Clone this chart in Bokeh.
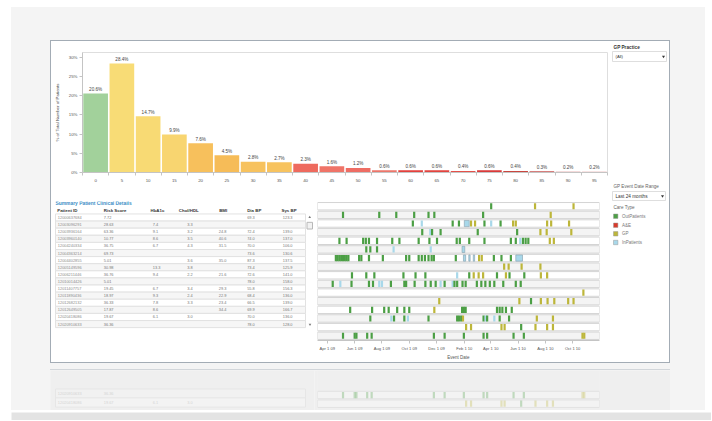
from datetime import datetime
from bokeh.plotting import figure
from bokeh.layouts import row, column
from bokeh.models import (Range1d, FixedTicker, PrintfTickFormatter, Label,
                          DatetimeTickFormatter, BoxAnnotation)
from bokeh.core.properties import value
from bokeh.embed import file_html
from bokeh.resources import INLINE

FONT = "Liberation Sans"
BLUE = "#3c8dc5"

# ---------------- data: risk score distribution ----------------
risk_scores = list(range(0, 100, 5))
pct_patients = [20.6, 28.4, 14.7, 9.9, 7.6, 4.5, 2.8, 2.7, 2.3, 1.6,
                1.2, 0.6, 0.6, 0.6, 0.4, 0.6, 0.4, 0.3, 0.2, 0.2]
bar_colors = ["#a2d19b", "#f8dc76", "#f8da74", "#f8d570", "#f7c05c",
              "#f6bc58", "#f7c25e", "#f7c35f", "#ee6a5e", "#ef7468",
              "#ee6d64", "#ec766b", "#e3413d", "#e2443f", "#e4514a",
              "#d93a3a", "#c9463f", "#c95350", "#d46c6d", "#e08e8e"]
y_ticks = [0, 5, 10, 15, 20, 25, 30]

# ---------------- data: patient table ----------------
table_headers = ["Patient ID", "Risk Score", "HbA1c", "Chol/HDL", "BMI", "Dia BP", "Sys BP"]
patient_ids = ["12000637684", "12003096291", "12003936164", "12003960140",
               "12004240334", "12004363214", "12004402855", "12005149596",
               "12006211446", "12010014426", "12011407757", "12011890436",
               "12012682132", "12012649505", "12020418086", "12020910633"]
risk_score = [7.72, 28.63, 63.36, 10.77, 36.75, 69.73, 5.01, 30.98,
              36.76, 5.01, 19.45, 18.97, 36.33, 17.87, 19.67, 36.36]
hba1c = [None, 7.4, 9.1, 8.6, 6.7, None, None, 13.3, 9.4, None, 6.7, 9.3, 7.8, 8.6, 6.1, None]
chol_hdl = [None, 3.3, 3.2, 3.5, 4.3, None, 3.6, 3.8, 2.2, None, 3.4, 2.4, 3.3, None, 3.0, None]
bmi = [None, None, 24.8, 40.6, 31.5, None, 35.0, None, 21.6, None, 29.3, 22.9, 23.4, 34.4, None, None]
dia_bp = [69.3, None, 72.4, 74.0, 70.0, 73.6, 87.3, 73.4, 72.6, 78.0, 55.8, 68.4, 66.5, 69.9, 70.0, 78.0]
sys_bp = [123.3, None, 139.0, 137.0, 106.0, 130.6, 137.5, 125.9, 141.0, 158.0,
          156.3, 136.0, 139.0, 166.7, 136.0, 128.0]

# ---------------- data: clinical events ----------------
care_types = ["OutPatients", "A&E", "GP", "InPatients"]
care_codes = ["O", "A", "G", "I"]
care_colors = ["#4c9f45", "#d93a2b", "#bdb63a", "#a8d8ea"]

events_row_01 = [("2010-04-02", "O"), ("2010-07-09", "G"), ("2010-10-03", "G")]
events_row_02 = [("2009-05-06", "O"), ("2009-07-26", "O"), ("2009-09-02", "O"), ("2009-10-12", "O"),
                 ("2009-11-13", "O"), ("2009-11-26", "O"), ("2010-03-15", "O"), ("2010-08-13", "G")]
events_row_03 = [("2009-10-09", "O"), ("2009-10-29", "I"), ("2010-01-06", "O"), ("2010-01-20", "O"),
                 ("2010-02-16", "G"), ("2010-02-25", "G"), ("2010-03-18", "O"), ("2010-04-02", "I"),
                 ("2010-04-23", "O"), ("2010-05-21", "G"), ("2010-05-27", "G"), ("2010-08-05", "G"),
                 ("2010-08-14", "G"), ("2010-09-23", "G")]
events_row_04 = [("2009-10-30", "O"), ("2009-11-17", "I"), ("2009-11-21", "O"), ("2009-12-10", "O"),
                 ("2010-03-03", "O"), ("2010-05-30", "O"), ("2010-07-21", "G"), ("2010-08-04", "G"),
                 ("2010-09-28", "G")]
events_row_05 = [("2009-04-28", "O"), ("2009-05-14", "O"), ("2009-06-20", "O"), ("2009-06-26", "O"),
                 ("2009-07-03", "O"), ("2009-07-21", "O"), ("2009-08-24", "O"), ("2009-09-09", "O"),
                 ("2009-10-22", "O"), ("2009-11-15", "O"), ("2009-12-02", "O"), ("2010-01-15", "O"),
                 ("2010-01-22", "O"), ("2010-02-12", "O"), ("2010-03-18", "O"), ("2010-05-16", "O"),
                 ("2010-05-27", "O"), ("2010-06-06", "I"), ("2010-06-12", "O"), ("2010-06-18", "O"),
                 ("2010-06-24", "O"), ("2010-08-11", "G"), ("2010-08-20", "G")]
events_row_06 = [("2009-06-27", "O"), ("2009-07-06", "O"), ("2009-07-21", "O"), ("2009-08-27", "I"),
                 ("2009-11-18", "I")]
events_row_07 = [("2009-04-20", "O"), ("2009-04-24", "O"), ("2009-04-28", "O"), ("2009-05-02", "O"),
                 ("2009-05-06", "O"), ("2009-05-10", "O"), ("2009-05-14", "O"), ("2009-05-18", "O"),
                 ("2009-06-11", "O"), ("2009-06-16", "O"), ("2009-07-03", "O"), ("2009-08-03", "O"),
                 ("2009-09-24", "O"), ("2009-10-01", "O"), ("2009-10-22", "O"), ("2009-10-29", "O"),
                 ("2009-11-05", "O"), ("2009-11-13", "O"), ("2009-11-20", "O"), ("2009-11-25", "O"),
                 ("2010-01-13", "O"), ("2010-03-06", "G"), ("2010-03-12", "G"), ("2010-04-08", "O"),
                 ("2010-04-25", "O"), ("2010-05-16", "O")]
events_row_08 = [("2010-05-01", "G"), ("2010-05-11", "G"), ("2010-06-09", "G"), ("2010-07-21", "G")]
events_row_09 = [("2009-05-26", "O"), ("2009-06-27", "O"), ("2009-07-15", "O"), ("2009-09-18", "O"),
                 ("2009-10-15", "O"), ("2009-11-06", "O"), ("2010-01-16", "I"), ("2010-02-12", "O"),
                 ("2010-02-22", "G"), ("2010-03-05", "G"), ("2010-03-15", "G"), ("2010-04-15", "O"),
                 ("2010-05-05", "G"), ("2010-05-13", "O"), ("2010-06-15", "O"), ("2010-07-22", "G"),
                 ("2010-08-05", "G")]
events_row_10 = [("2009-04-13", "O"), ("2009-04-30", "I"), ("2009-05-25", "O"), ("2009-07-03", "O"),
                 ("2009-07-12", "O"), ("2009-07-26", "I"), ("2009-08-01", "I"), ("2009-08-21", "O"),
                 ("2009-09-20", "O"), ("2009-09-24", "O"), ("2009-10-13", "O"), ("2009-11-06", "O"),
                 ("2009-11-18", "O"), ("2009-11-29", "O"), ("2009-12-10", "I"), ("2009-12-19", "O"),
                 ("2010-01-06", "I"), ("2010-01-10", "O"), ("2010-01-16", "O"), ("2010-01-28", "O"),
                 ("2010-02-04", "O"), ("2010-03-01", "O"), ("2010-03-11", "O"), ("2010-03-20", "O"),
                 ("2010-03-30", "O"), ("2010-04-09", "O"), ("2010-04-29", "O"), ("2010-05-27", "O"),
                 ("2010-06-07", "O")]
events_row_11 = [("2010-10-25", "G")]
events_row_12 = [("2009-12-07", "G"), ("2010-06-04", "G"), ("2010-06-30", "O"), ("2010-07-22", "G"),
                 ("2010-08-06", "G"), ("2010-08-21", "G"), ("2010-09-21", "G"), ("2010-10-03", "G")]
events_row_13 = [("2009-05-22", "O"), ("2009-07-10", "O"), ("2009-08-06", "O"), ("2009-08-16", "O"),
                 ("2009-09-04", "O"), ("2009-09-20", "O"), ("2009-10-01", "O"), ("2009-11-26", "G"),
                 ("2010-01-27", "O"), ("2010-01-31", "O"), ("2010-02-04", "O"), ("2010-04-15", "O"),
                 ("2010-04-21", "O"), ("2010-04-27", "O"), ("2010-05-05", "O"), ("2010-05-18", "O")]
events_row_14 = [("2009-07-06", "O"), ("2009-08-22", "I"), ("2009-08-28", "O"), ("2009-09-20", "O"),
                 ("2009-09-28", "I"), ("2009-11-13", "O"), ("2010-01-16", "O"), ("2010-01-20", "O"),
                 ("2010-01-25", "O"), ("2010-01-29", "G"), ("2010-03-16", "O"), ("2010-03-21", "I"),
                 ("2010-03-24", "O"), ("2010-04-09", "I"), ("2010-04-21", "O"), ("2010-05-12", "O"),
                 ("2010-07-13", "G"), ("2010-08-18", "G")]
events_row_15 = [("2010-02-05", "G"), ("2010-02-16", "G"), ("2010-04-25", "G"), ("2010-05-02", "G"),
                 ("2010-06-08", "O"), ("2010-07-10", "G"), ("2010-08-05", "G"), ("2010-08-18", "G")]
events_row_16 = [("2009-05-06", "O"), ("2009-06-01", "O"), ("2009-06-05", "O"), ("2009-06-29", "O"),
                 ("2009-07-09", "O"), ("2009-11-25", "O"), ("2009-12-19", "O"), ("2010-01-31", "O"),
                 ("2010-03-16", "O"), ("2010-03-24", "O"), ("2010-05-22", "O"), ("2010-06-14", "O"),
                 ("2010-10-23", "G"), ("2010-10-27", "G")]
event_rows = [events_row_01, events_row_02, events_row_03, events_row_04, events_row_05,
              events_row_06, events_row_07, events_row_08, events_row_09, events_row_10,
              events_row_11, events_row_12, events_row_13, events_row_14, events_row_15,
              events_row_16]

# in-patient stays: (row, admission, discharge)
stay_rows = [3, 6, 7, 7, 7, 7]
stay_start = ["2010-02-01", "2010-01-27", "2010-01-30", "2010-02-11", "2010-02-21", "2010-05-27"]
stay_end = ["2010-02-12", "2010-02-02", "2010-02-04", "2010-02-14", "2010-02-24", "2010-06-11"]

date_ticks = ["2009-04-01", "2009-06-01", "2009-08-01", "2009-10-01", "2009-12-01",
              "2010-02-01", "2010-04-01", "2010-06-01", "2010-08-01", "2010-10-01"]
date_start = "2009-03-10"
date_end = "2010-11-30"


# ---------------- helpers ----------------
def d(s):
    return datetime.strptime(s, "%Y-%m-%d")


def ms(s):
    return (d(s) - datetime(1970, 1, 1)).total_seconds() * 1000.0


def blank(w, h, **kw):
    p = figure(width=w, height=h, output_backend="svg", toolbar_location=None,
               x_axis_location=None, y_axis_location=None, min_border=0, **kw)
    p.grid.visible = False
    p.outline_line_color = None
    return p


def fmt(v, nd):
    return "" if v is None else f"{v:.{nd}f}"


code_color = dict(zip(care_codes, care_colors))

# ---------------- bar chart ----------------
bar = figure(width=558, height=143, x_range=Range1d(-2.5, 97.5), y_range=Range1d(0, 31.3),
             output_backend="svg", toolbar_location=None, min_border=0,
             min_border_left=29, min_border_right=2, min_border_top=11, min_border_bottom=12)
bar.grid.visible = False
bar.outline_line_color = "#dedede"
bar.vbar(x=risk_scores, top=pct_patients, width=4.7, fill_color=bar_colors, line_color=None)
bar.text(x=risk_scores, y=pct_patients, text=[f"{v}%" for v in pct_patients],
         text_align="center", text_baseline="bottom", y_offset=-1.5,
         text_font=value(FONT), text_font_size="4.6px", text_color="#444444")
bar.xaxis.ticker = FixedTicker(ticks=risk_scores, minor_ticks=[s - 2.5 for s in risk_scores] + [97.5])
bar.xaxis.major_tick_out = 0
bar.xaxis.major_tick_in = 0
bar.xaxis.minor_tick_out = 3
bar.xaxis.minor_tick_in = 0
bar.xaxis.major_label_standoff = 3
bar.yaxis.ticker = FixedTicker(ticks=y_ticks)
bar.yaxis.formatter = PrintfTickFormatter(format="%d%%")
bar.yaxis.major_tick_out = 3
bar.yaxis.major_tick_in = 0
bar.yaxis.minor_tick_out = 0
bar.yaxis.major_label_standoff = 2
bar.yaxis.axis_label = "% of Total Number of Patients"
bar.yaxis.axis_label_standoff = 6
for ax in (bar.xaxis, bar.yaxis):
    ax.axis_line_color = "#c4c4c4"
    ax.major_tick_line_color = "#c4c4c4"
    ax.minor_tick_line_color = "#c4c4c4"
    ax.major_label_text_font = FONT
    ax.major_label_text_font_size = "4.4px"
    ax.major_label_text_color = "#555555"
    ax.axis_label_text_font = FONT
    ax.axis_label_text_font_size = "4.4px"
    ax.axis_label_text_font_style = "normal"
    ax.axis_label_text_color = "#444444"
bar.add_layout(Label(x=-7.24, y=32.6, text="Distribution of Patient by Risk Score",
                     text_baseline="middle", text_font=FONT, text_font_size="4.9px",
                     text_font_style="bold", text_color=BLUE))

# ---------------- table ----------------
rows_idx = list(range(1, 17))
tab = blank(263, 178, x_range=Range1d(0, 263), y_range=Range1d(18.31, -1.253))
tab.hbar(y=rows_idx, left=4, right=254, height=1,
         fill_color=["#ffffff" if i % 2 else "#f6f6f6" for i in rows_idx], line_color="#e2e2e2")
tab.text(x=[4], y=[-0.95], text=["Summary Patient Clinical Details"], text_baseline="middle",
         text_font=value(FONT), text_font_size="4.9px", text_font_style="bold", text_color=BLUE)
header_x = [5.7, 52.3, 99, 127.3, 167.7, 195.7, 230]
tab.text(x=header_x, y=[0.05] * 7, text=table_headers, text_baseline="middle",
         text_font=value(FONT), text_font_size="4.4px", text_font_style="bold", text_color="#333333")
col_x = [6.3, 52.3, 101.3, 135.7, 167.3, 195.7, 231.3]
col_text = [patient_ids, [fmt(v, 2) for v in risk_score], [fmt(v, 1) for v in hba1c],
            [fmt(v, 1) for v in chol_hdl], [fmt(v, 1) for v in bmi],
            [fmt(v, 1) for v in dia_bp], [fmt(v, 1) for v in sys_bp]]
for cx, txt in zip(col_x, col_text):
    tab.text(x=[cx] * 16, y=rows_idx, text=txt, text_baseline="middle",
             text_font=value(FONT), text_font_size="3.9px",
             text_color="#8a8a8a" if txt is patient_ids else "#777777")
# scrollbar
tab.quad(left=[255.5], right=[261], top=[1.68], bottom=[2.62], fill_color="#f2f2f2", line_color="#b8b8b8")
tab.scatter(x=[258.2, 258.5], y=[0.98, 16.05], marker=["triangle", "inverted_triangle"],
            size=2.6, fill_color="#777777", line_color=None)

# ---------------- clinical events ----------------
ev = figure(width=295, height=178, x_axis_type="datetime",
            x_range=Range1d(ms(date_start), ms(date_end)), y_range=Range1d(16.55, 0.45),
            output_backend="svg", toolbar_location=None, min_border=0,
            min_border_left=3, min_border_right=10, min_border_top=17, min_border_bottom=21)
ev.grid.visible = False
ev.outline_line_color = None
ev.yaxis.visible = False
ev.hbar(y=rows_idx, left=ms(date_start), right=ms(date_end), height=0.86,
        fill_color=["#ffffff" if i % 2 else "#f4f4f4" for i in rows_idx], line_color="#d4d4d4")
ex, ey, ec = [], [], []
for r, evs in enumerate(event_rows, start=1):
    for ds, code in evs:
        ex.append(ms(ds))
        ey.append(r)
        ec.append(code_color[code])
ev.rect(x=ex, y=ey, width=2.2, width_units="screen", height=0.72, fill_color=ec,
        line_color=None)
ev.quad(left=[ms(s) for s in stay_start], right=[ms(s) for s in stay_end],
        top=[r - 0.36 for r in stay_rows], bottom=[r + 0.36 for r in stay_rows],
        fill_color=code_color["I"], line_color="#8ea8b4", line_width=0.7)
ev.xaxis.ticker = FixedTicker(ticks=[ms(t) for t in date_ticks])
dfmt = "%b %-d %y"
ev.xaxis.formatter = DatetimeTickFormatter(days=dfmt, months=dfmt, years=dfmt, hours=dfmt,
                                           hourmin=dfmt, minutes=dfmt, minsec=dfmt,
                                           seconds=dfmt, milliseconds=dfmt, microseconds=dfmt)
ev.xaxis.axis_label = "Event Date"
ev.xaxis.axis_label_standoff = 1
ev.xaxis.major_tick_out = 3
ev.xaxis.major_tick_in = 0
ev.xaxis.minor_tick_out = 0
ev.xaxis.major_label_standoff = 2
ev.xaxis.axis_line_color = "#c4c4c4"
ev.xaxis.major_tick_line_color = "#c4c4c4"
ev.xaxis.major_label_text_font = FONT
ev.xaxis.major_label_text_font_size = "4.1px"
ev.xaxis.major_label_text_color = "#555555"
ev.xaxis.axis_label_text_font = FONT
ev.xaxis.axis_label_text_font_size = "4.5px"
ev.xaxis.axis_label_text_font_style = "normal"
ev.xaxis.axis_label_text_color = "#555555"
ev.add_layout(Label(x=ms(date_start), y=-1.13, text="Clinical Events", text_baseline="middle",
                    text_font=FONT, text_font_size="4.9px", text_font_style="bold",
                    text_color=BLUE))
sb_l = ms(date_end) + 4.5 * 86400000
sb_r = ms(date_end) + 15.5 * 86400000
ev.add_layout(BoxAnnotation(left=sb_l, right=sb_r, top=1.65, bottom=2.45,
                            fill_color="#f2f2f2", fill_alpha=1, line_color="#b8b8b8", line_alpha=1))
ev.add_layout(Label(x=(sb_l + sb_r) / 2, y=0.75, text="\u25b2", text_align="center",
                    text_baseline="middle", text_font="DejaVu Sans", text_font_size="3px",
                    text_color="#777777"))
ev.add_layout(Label(x=(sb_l + sb_r) / 2, y=16.4, text="\u25bc", text_align="center",
                    text_baseline="middle", text_font="DejaVu Sans", text_font_size="3px",
                    text_color="#777777"))

# ---------------- right side panel ----------------
side = blank(60, 321, x_range=Range1d(0, 60), y_range=Range1d(321, 0))
side.text(x=[4], y=[6], text=["GP Practice"], text_baseline="middle", text_font=value(FONT),
          text_font_size="4.7px", text_font_style="bold", text_color="#333333")
side.quad(left=[3, 3], right=[57, 56], top=[10, 150], bottom=[20, 159],
          fill_color="#ffffff", line_color="#d6d6d6", line_width=0.8)
side.text(x=[6, 6], y=[14.8, 154.6], text=["(All)", "Last 24 months"], text_baseline="middle",
          text_font=value(FONT), text_font_size=["4.2px", "4.7px"], text_color="#333333")
side.scatter(x=[54, 53], y=[15, 154.6], marker="inverted_triangle", size=3,
             fill_color="#333333", line_color=None)
side.text(x=[4, 4], y=[145, 166], text=["GP Event Date Range", "Care Type"],
          text_baseline="middle", text_font=value(FONT), text_font_size="4.6px",
          text_color="#666666")
leg_y = [174.7, 183.7, 192.3, 201.0]
side.rect(x=[6.2] * 4, y=leg_y, width=4.4, height=4.4, fill_color=care_colors,
          line_color="#9a9a9a", line_width=0.5)
side.text(x=[12.5] * 4, y=leg_y, text=care_types, text_baseline="middle",
          text_font=value(FONT), text_font_size="4.5px", text_color="#777777")

# ---------------- reflection ----------------
refl_l = blank(264, 40, x_range=Range1d(0, 264), y_range=Range1d(40, 0))
refl_l.background_fill_color = "#efefef"
refl_l.border_fill_color = "#efefef"
refl_l.hbar(y=[23, 32], left=5, right=255, height=9.2, fill_color=["#f1f1f1", "#f3f3f3"],
            line_color="#e6e6e6")
for cx, txt in zip(col_x[:4], col_text[:4]):
    refl_l.text(x=[cx + 1] * 2, y=[23, 32], text=[txt[15], txt[14]], text_baseline="middle",
                text_font=value(FONT), text_font_size="3.9px", text_color="#d4d4d4")

refl_r = figure(width=356, height=40, x_range=Range1d(ms(date_start), ms(date_end)),
                y_range=Range1d(14.22, 18.82), output_backend="svg", toolbar_location=None,
                x_axis_location=None, y_axis_location=None, min_border=0,
                min_border_left=3, min_border_right=71)
refl_r.grid.visible = False
refl_r.outline_line_color = None
refl_r.background_fill_color = "#efefef"
refl_r.border_fill_color = "#efefef"
refl_r.hbar(y=[16, 15], left=ms(date_start), right=ms(date_end), height=0.86,
            fill_color="#f3f3f3", line_color="#e2e2e2")
rx, ry, rc = [], [], []
for r in (15, 16):
    for ds, code in event_rows[r - 1]:
        rx.append(ms(ds))
        ry.append(r)
        rc.append(code_color[code])
refl_r.rect(x=rx, y=ry, width=2.2, width_units="screen", height=0.72, fill_color=rc,
            fill_alpha=0.3, line_color=None)

strip = blank(700, 10)
strip.border_fill_color = "#e3e3e3"
strip.background_fill_color = "#e3e3e3"

# ---------------- layout ----------------
left_col = column(bar, row(tab, ev))
dash = row(left_col, side, margin=(33, 35, 0, 39),
           styles={"border": "1px solid #a3acb5", "background-color": "#ffffff"})
refl = row(refl_l, refl_r, margin=(6, 35, 0, 39),
           styles={"border-top": "1px solid #d2d6da"})
main = column(dash, refl, margin=(7, 0, 0, 11),
              styles={"background-color": "#f4f4f4", "background": "#f4f4f4"})
root = column(main, row(strip, margin=(0, 0, 0, 11)))

open("out.html", "w").write(file_html(root, INLINE))
